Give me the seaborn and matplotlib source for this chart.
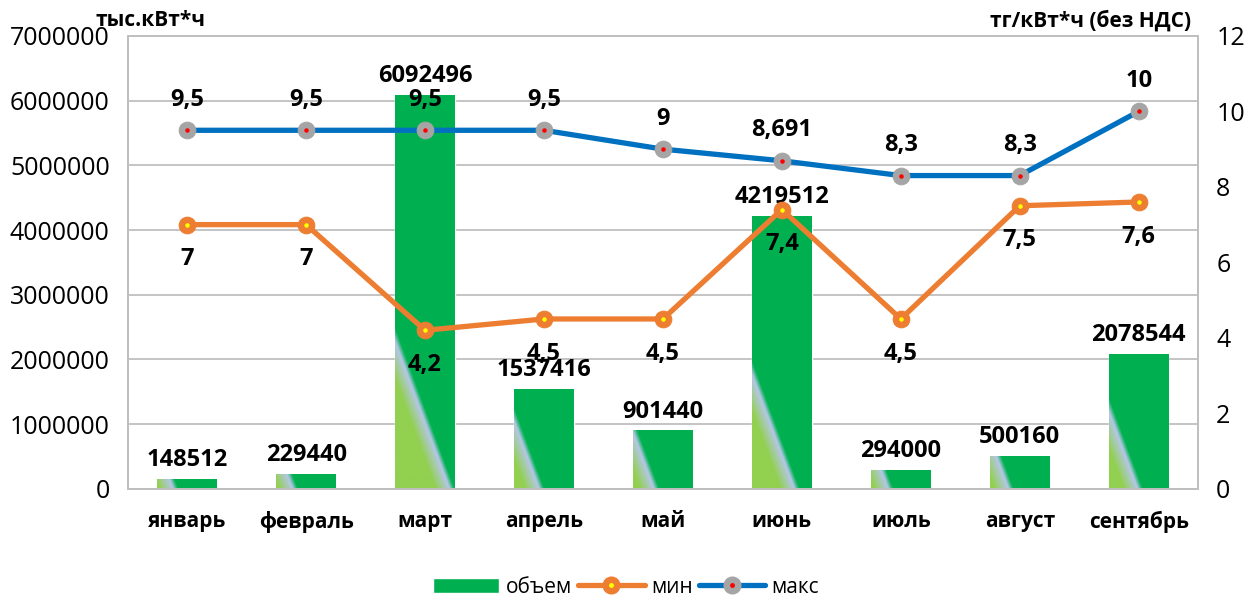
import numpy as np
import pandas as pd
import matplotlib
matplotlib.use('Agg')
import matplotlib.pyplot as plt
import seaborn as sns
from matplotlib.lines import Line2D
from matplotlib.patches import Patch
from matplotlib.legend_handler import HandlerTuple

months = ['январь', 'февраль', 'март', 'апрель', 'май', 'июнь', 'июль', 'август', 'сентябрь']
volume = [148512, 229440, 6092496, 1537416, 901440, 4219512, 294000, 500160, 2078544]
price_min = [7, 7, 4.2, 4.5, 4.5, 7.4, 4.5, 7.5, 7.6]
price_max = [9.5, 9.5, 9.5, 9.5, 9, 8.691, 8.3, 8.3, 10]
min_labels = ['7', '7', '4,2', '4,5', '4,5', '7,4', '4,5', '7,5', '7,6']
max_labels = ['9,5', '9,5', '9,5', '9,5', '9', '8,691', '8,3', '8,3', '10']

df = pd.DataFrame({'месяц': months, 'объем': volume, 'мин': price_min, 'макс': price_max})
df['pos'] = np.arange(len(df))

sns.set_theme(style='white')
plt.rcParams['font.family'] = ['Open Sans', 'DejaVu Sans']
plt.rcParams['text.color'] = 'black'
plt.rcParams['xtick.color'] = 'black'
plt.rcParams['ytick.color'] = 'black'

GREEN = '#00B050'
LGREEN = np.array([146, 208, 80]) / 255
LBLUE = np.array([180, 199, 231]) / 255
DGREEN = np.array([0, 176, 80]) / 255
ORANGE = '#ED7D31'
BLUE = '#0070C0'
GREY = '#A5A5A5'
GRID = '#BFBFBF'

fig = plt.figure(figsize=(12.52, 5.99), dpi=100)
ax = fig.add_axes([0.102, 0.184, 0.855, 0.756])

sns.barplot(data=df, x='месяц', y='объем', color=GREEN, width=0.5, saturation=1, ax=ax, zorder=2)
ax.set_xlim(-0.5, len(months) - 0.5)
ax.set_ylim(0, 7000000)

# градиентная заливка столбцов
px_per_x = 0.855 * 1252 / len(months)
px_per_y = 0.756 * 599 / 7000000
for p in list(ax.patches):
    x0, w, h = p.get_x(), p.get_width(), p.get_height()
    w_px, h_px = w * px_per_x, h * px_per_y
    nx, ny = 80, max(4, int(h_px))
    dx = np.linspace(0, w_px, nx)[None, :]
    dy = np.linspace(0, h_px, ny)[:, None]
    s0 = 15 + 0.1 * h_px
    t = dx + 0.37 * dy - s0
    a = np.clip((t + 14) / 14, 0, 1)[..., None]
    b = np.clip(t / 5, 0, 1)[..., None]
    img = np.where(t[..., None] < 0, LGREEN * (1 - a) + LBLUE * a, LBLUE * (1 - b) + DGREEN * b)
    im = ax.imshow(img, extent=(x0, x0 + w, 0, h), origin='lower', aspect='auto',
                   interpolation='bilinear', zorder=2.5)
    im.set_clip_path(p)
ax.set_xlim(-0.5, len(months) - 0.5)
ax.set_ylim(0, 7000000)

ax.set_yticks(np.arange(0, 7000001, 1000000))
ax.yaxis.set_major_formatter(matplotlib.ticker.FuncFormatter(lambda v, _: f'{int(v)}'))
ax.tick_params(axis='y', length=0, pad=13, labelsize=18)
ax.tick_params(axis='x', length=0, pad=16, labelsize=15)
for lab in ax.get_xticklabels():
    lab.set_fontweight('bold')
ax.set_xlabel('')
ax.set_ylabel('')
ax.grid(axis='y', color=GRID, lw=1.3, zorder=0)
ax.set_axisbelow(True)
for s in ax.spines.values():
    s.set_color(GRID)
    s.set_linewidth(1.3)

for i, v in enumerate(volume):
    ax.annotate(f'{v}', (i, v), xytext=(0, 5), textcoords='offset points',
                ha='center', va='bottom', fontsize=17, fontweight='bold', zorder=5)

ax2 = ax.twinx()
sns.lineplot(data=df, x='pos', y='мин', color=ORANGE, lw=3.8, marker='o', markersize=12,
             markerfacecolor=ORANGE, markeredgecolor=ORANGE, ax=ax2)
sns.lineplot(data=df, x='pos', y='макс', color=BLUE, lw=3.8, marker='o', markersize=12,
             markerfacecolor=GREY, markeredgecolor=GREY, ax=ax2)
ax2.scatter(df['pos'], df['мин'], s=5, color='#FFFF00', zorder=5)
ax2.scatter(df['pos'], df['макс'], s=5, color='#FF0000', zorder=5)
ax2.set_ylim(0, 12)
ax2.set_xlim(-0.5, len(months) - 0.5)
ax2.set_yticks(np.arange(0, 13, 2))
ax2.tick_params(axis='y', length=0, pad=13, labelsize=18)
ax2.set_ylabel('')
ax2.set_xlabel('')
for s in ax2.spines.values():
    s.set_color(GRID)
    s.set_linewidth(1.3)

for i in range(len(months)):
    ax2.annotate(max_labels[i], (i, price_max[i]), xytext=(0, 22), textcoords='offset points',
                 ha='center', va='center', fontsize=17, fontweight='bold')
    ax2.annotate(min_labels[i], (i, price_min[i]), xytext=(0, -25), textcoords='offset points',
                 ha='center', va='center', fontsize=17, fontweight='bold')

fig.text(0.076, 0.965, 'тыс.кВт*ч', ha='left', va='center', fontsize=15, fontweight='bold')
fig.text(0.951, 0.965, 'тг/кВт*ч (без НДС)', ha='right', va='center', fontsize=15, fontweight='bold')

h_bar = Patch(facecolor=GREEN)
h_min = (Line2D([], [], color=ORANGE, lw=3.8, marker='o', markersize=12, markerfacecolor=ORANGE, markeredgecolor=ORANGE),
         Line2D([], [], ls='', marker='o', markersize=2.5, color='#FFFF00'))
h_max = (Line2D([], [], color=BLUE, lw=3.8, marker='o', markersize=12, markerfacecolor=GREY, markeredgecolor=GREY),
         Line2D([], [], ls='', marker='o', markersize=2.5, color='#FF0000'))
fig.legend([h_bar, h_min, h_max], ['объем', 'мин', 'макс'], loc='center', bbox_to_anchor=(0.5, 0.02),
           ncol=3, frameon=False, fontsize=15, handlelength=3.2, handletextpad=0.3, columnspacing=0.3,
           handler_map={tuple: HandlerTuple(ndivide=1)})

fig.savefig('out.png', dpi=100)
